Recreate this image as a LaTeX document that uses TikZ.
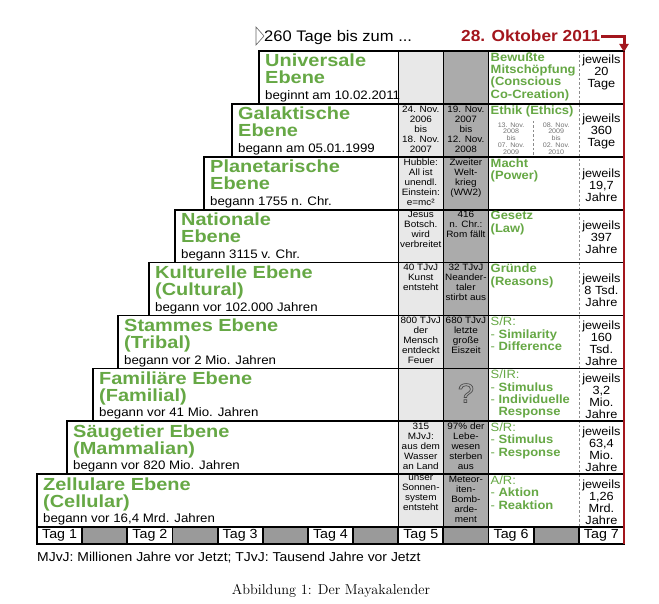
\documentclass[tikz,border=0pt]{standalone}
\usepackage{fontspec}
\setsansfont{Liberation Sans}[FakeStretch=1.08]
\newfontfamily\titelfont{Liberation Sans}[FakeStretch=1.14]
\usetikzlibrary{arrows.meta}
\definecolor{ebene}{HTML}{66A845}
\definecolor{hell}{HTML}{E8E8E8}
\definecolor{dunkel}{HTML}{ABABAB}
\definecolor{tagdunkel}{HTML}{9A9A9A}
\definecolor{tiefrot}{HTML}{A3161D}

\begin{document}
\begin{tikzpicture}[x=1pt, y=-1pt,
  rahmen/.style={line width=1.8pt},
  spalte/.style={line width=0.7pt},
  trenner/.style={black!45, line width=0.6pt, dash pattern=on 2.5pt off 2pt},
  titel/.style={anchor=north west, inner sep=1pt, align=left, text=ebene,
    font={\titelfont\bfseries\fontsize{17.5}{17}\selectfont\lineskiplimit=-20pt}},
  beginn/.style={anchor=base west, inner sep=1pt, font={\sffamily\fontsize{12.3}{14}\selectfont}},
  ereignis/.style={anchor=north, inner sep=1pt, align=center,
    font={\sffamily\fontsize{9.2}{10}\selectfont\lineskiplimit=-20pt}},
  thema/.style={anchor=north west, inner sep=1pt, align=left, text=ebene,
    font={\sffamily\bfseries\fontsize{12}{12.3}\selectfont\lineskiplimit=-20pt}},
  zeitraum/.style={anchor=north, inner sep=0pt, align=center, text=black!55,
    font={\sffamily\fontsize{6.6}{6.7}\selectfont\lineskiplimit=-20pt}},
  dauer/.style={inner sep=0pt, align=center,
    font={\sffamily\fontsize{11.8}{12}\selectfont\lineskiplimit=-20pt}},
  tagfeld/.style={draw, rahmen, inner sep=0pt, minimum width=45.15pt, minimum height=16.9pt,
    font={\sffamily\fontsize{13.2}{14}\selectfont}},
  leer/.style={draw, rahmen, fill=tagdunkel, inner sep=0pt, minimum width=45.15pt, minimum height=16.9pt},
]
  \fill[white] (0,0) rectangle (659,604);

  % columns
  \fill[hell] (398.2,51) rectangle (443.35,527.1);
  \fill[dunkel] (443.35,51) rectangle (488.5,527.1);
  \draw[spalte] (398.2,51) -- (398.2,527.1);
  \draw[spalte] (443.35,51) -- (443.35,527.1);
  \draw[spalte] (488.5,51) -- (488.5,527.1);
  \draw[trenner] (578.8,51) -- (578.8,527.1);
  \draw[trenner] (533.65,121) -- (533.65,156.8);

  % level boxes
  \draw[rahmen] (259,51) rectangle (624,103.9);
  \draw[rahmen] (232,103.9) rectangle (624,156.8);
  \draw[rahmen] (204,156.8) rectangle (624,209.7);
  \draw[rahmen] (175,209.7) rectangle (624,262.6);
  \draw[rahmen] (149,262.6) rectangle (624,315.5);
  \draw[rahmen] (118,315.5) rectangle (624,368.4);
  \draw[rahmen] (93,368.4) rectangle (624,421.3);
  \draw[rahmen] (67,421.3) rectangle (624,474.2);
  \draw[rahmen] (37,474.2) rectangle (624,527.1);

  % Universale Ebene
  \node[titel] (universal) at (264,53) {Universale\\Ebene};
  \node[beginn] (universal-b) at (264,99.5) {beginnt am 10.02.2011};
  \node[thema] (universal-t) at (489.5,51.5) {Bewußte\\Mitschöpfung\\(Conscious\\Co-Creation)};
  \node[dauer] (universal-d) at (601.4,72.5) {jeweils\\20\\Tage};

  % Galaktische Ebene
  \node[titel] (galaktisch) at (237,105.9) {Galaktische\\Ebene};
  \node[beginn] (galaktisch-b) at (237,152.4) {begann am 05.01.1999};
  \node[ereignis] (galaktisch-h) at (420.8,104.4) {24. Nov.\\2006\\bis\\18. Nov.\\2007};
  \node[ereignis] (galaktisch-k) at (465.9,104.4) {19. Nov.\\2007\\bis\\12. Nov.\\2008};
  \node[thema] (galaktisch-t) at (489.5,104.4) {Ethik (Ethics)};
  \node[zeitraum] (galaktisch-z1) at (511.1,122.4) {13. Nov.\\2008\\bis\\07. Nov.\\2009};
  \node[zeitraum] (galaktisch-z2) at (556.2,122.4) {08. Nov.\\2009\\bis\\02. Nov.\\2010};
  \node[dauer] (galaktisch-d) at (601.4,131.9) {jeweils\\360\\Tage};

  % Planetarische Ebene
  \node[titel] (planetar) at (209,158.8) {Planetarische\\Ebene};
  \node[beginn] (planetar-b) at (209,205.3) {begann 1755 n. Chr.};
  \node[ereignis] (planetar-h) at (420.8,157.3) {Hubble:\\All ist\\unendl.\\Einstein:\\e=mc²};
  \node[ereignis] (planetar-k) at (465.9,157.3) {Zweiter\\Welt-\\krieg\\(WW2)};
  \node[thema] (planetar-t) at (489.5,157.3) {Macht\\(Power)};
  \node[dauer] (planetar-d) at (601.4,184.8) {jeweils\\19,7\\Jahre};

  % Nationale Ebene
  \node[titel] (national) at (180,211.7) {Nationale\\Ebene};
  \node[beginn] (national-b) at (180,258.2) {begann 3115 v. Chr.};
  \node[ereignis] (national-h) at (420.8,210.2) {Jesus\\Botsch.\\wird\\verbreitet};
  \node[ereignis] (national-k) at (465.9,210.2) {416\\n. Chr.:\\Rom fällt};
  \node[thema] (national-t) at (489.5,210.2) {Gesetz\\(Law)};
  \node[dauer] (national-d) at (601.4,237.7) {jeweils\\397\\Jahre};

  % Kulturelle Ebene
  \node[titel] (kulturell) at (154,264.6) {Kulturelle Ebene\\(Cultural)};
  \node[beginn] (kulturell-b) at (154,311.1) {begann vor 102.000 Jahren};
  \node[ereignis] (kulturell-h) at (420.8,263.1) {40 TJvJ\\Kunst\\entsteht};
  \node[ereignis] (kulturell-k) at (465.9,263.1) {32 TJvJ\\Neander-\\taler\\stirbt aus};
  \node[thema] (kulturell-t) at (489.5,263.1) {Gründe\\(Reasons)};
  \node[dauer] (kulturell-d) at (601.4,290.6) {jeweils\\8 Tsd.\\Jahre};

  % Stammes Ebene
  \node[titel] (stamm) at (123,317.5) {Stammes Ebene\\(Tribal)};
  \node[beginn] (stamm-b) at (123,364) {begann vor 2 Mio. Jahren};
  \node[ereignis] (stamm-h) at (420.8,316) {800 TJvJ\\der\\Mensch\\entdeckt\\Feuer};
  \node[ereignis] (stamm-k) at (465.9,316) {680 TJvJ\\letzte\\große\\Eiszeit};
  \node[thema] (stamm-t) at (489.5,316) {{\mdseries S/R:}\\{\mdseries -} Similarity\\{\mdseries -} Difference};
  \node[dauer] (stamm-d) at (601.4,343.5) {jeweils\\160\\Tsd.\\Jahre};

  % Familiaere Ebene
  \node[titel] (familie) at (98,370.4) {Familiäre Ebene\\(Familial)};
  \node[beginn] (familie-b) at (98,416.9) {begann vor 41 Mio. Jahren};
  \node[inner sep=0pt, font={\sffamily\fontsize{27}{27}\selectfont}] (familie-k) at (465.9,393)
    {\special{pdf:literal 1 Tr 0.7 w 0.3 G}?\special{pdf:literal 0 Tr}};
  \node[thema] (familie-t) at (489.5,368.9) {{\mdseries S/IR:}\\{\mdseries -} Stimulus\\{\mdseries -} Individuelle\\\phantom{\mdseries - }Response};
  \node[dauer] (familie-d) at (601.4,396.4) {jeweils\\3,2\\Mio.\\Jahre};

  % Saeugetier Ebene
  \node[titel] (saeuger) at (72,423.3) {Säugetier Ebene\\(Mammalian)};
  \node[beginn] (saeuger-b) at (72,469.8) {begann vor 820 Mio. Jahren};
  \node[ereignis] (saeuger-h) at (420.8,421.8) {315\\MJvJ:\\aus dem\\Wasser\\an Land};
  \node[ereignis] (saeuger-k) at (465.9,421.8) {97\% der\\Lebe-\\wesen\\sterben\\aus};
  \node[thema] (saeuger-t) at (489.5,421.8) {{\mdseries S/R:}\\{\mdseries -} Stimulus\\{\mdseries -} Response};
  \node[dauer] (saeuger-d) at (601.4,449.3) {jeweils\\63,4\\Mio.\\Jahre};

  % Zellulare Ebene
  \node[titel] (zelle) at (42,476.2) {Zellulare Ebene\\(Cellular)};
  \node[beginn] (zelle-b) at (42,522.7) {begann vor 16,4 Mrd. Jahren};
  \node[ereignis] (zelle-h) at (420.8,474.7) {unser\\Sonnen-\\system\\entsteht};
  \node[ereignis] (zelle-k) at (465.9,474.7) {Meteor-\\iten-\\Bomb-\\arde-\\ment};
  \node[thema] (zelle-t) at (489.5,474.7) {{\mdseries A/R:}\\{\mdseries -} Aktion\\{\mdseries -} Reaktion};
  \node[dauer] (zelle-d) at (601.4,502.2) {jeweils\\1,26\\Mrd.\\Jahre};

  % days
  \node[tagfeld] (tag1) at (59.58,535.55) {Tag 1};
  \node[leer] (nacht1) at (104.73,535.55) {};
  \node[tagfeld] (tag2) at (149.88,535.55) {Tag 2};
  \node[leer] (nacht2) at (195.03,535.55) {};
  \node[tagfeld] (tag3) at (240.18,535.55) {Tag 3};
  \node[leer] (nacht3) at (285.33,535.55) {};
  \node[tagfeld] (tag4) at (330.48,535.55) {Tag 4};
  \node[leer] (nacht4) at (375.63,535.55) {};
  \node[tagfeld] (tag5) at (420.78,535.55) {Tag 5};
  \node[leer] (nacht5) at (465.93,535.55) {};
  \node[tagfeld] (tag6) at (511.08,535.55) {Tag 6};
  \node[leer] (nacht6) at (556.23,535.55) {};
  \node[tagfeld] (tag7) at (601.38,535.55) {Tag 7};

  % countdown
  \draw[black!60, line width=0.6pt] (256,27) -- (264,36) -- (256,45) -- cycle;
  \node[anchor=base west, inner sep=1pt, font={\sffamily\fontsize{15.3}{16}\selectfont}] (countdown) at (263,42) {260 Tage bis zum ...};
  \node[anchor=base west, inner sep=1pt, text=tiefrot, font={\sffamily\bfseries\fontsize{16}{18}\selectfont}] (termin) at (460,42) {28. Oktober 2011};
  \coordinate (spitze) at (624,52);
  \coordinate (fuss) at (624,544);
  \draw[tiefrot, line width=3pt, -{Triangle[width=9pt,length=8pt]}] (termin.east) -| (spitze);
  \draw[tiefrot, line width=1.3pt] (spitze) -- (fuss);

  % notes
  \node[anchor=base west, inner sep=0pt, font={\sffamily\fontsize{12.9}{14}\selectfont}] (legende) at (37,561) {MJvJ: Millionen Jahre vor Jetzt; TJvJ: Tausend Jahre vor Jetzt};
  \node[anchor=base, inner sep=0pt, font={\rmfamily\fontsize{14.3}{16}\selectfont}] (abbildung) at (331,594) {Abbildung 1: Der Mayakalender};
\end{tikzpicture}
\end{document}
